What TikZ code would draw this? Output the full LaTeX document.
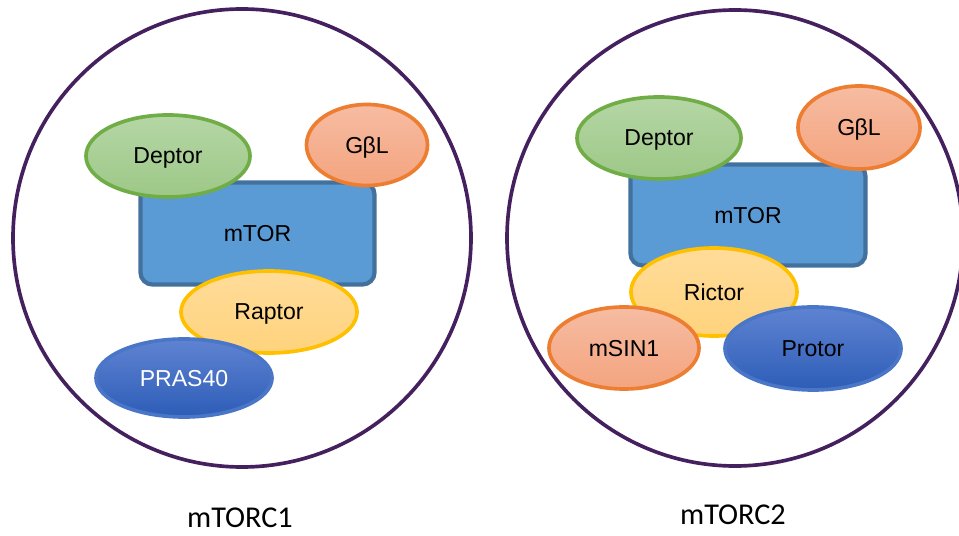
\documentclass[tikz,border=0pt]{standalone}
\usepackage{fontspec}
\setmainfont{Liberation Sans}
\newfontfamily\captionfont{Carlito}
\usetikzlibrary{shapes.geometric}
\definecolor{ringpurple}{HTML}{44205F}
\definecolor{torfill}{HTML}{5B9BD5}
\definecolor{torline}{HTML}{41719C}
\definecolor{grtop}{HTML}{B5D6A5}
\definecolor{grbot}{HTML}{9DC887}
\definecolor{grline}{HTML}{70AD47}
\definecolor{ortop}{HTML}{F6BCA2}
\definecolor{orbot}{HTML}{F4A47F}
\definecolor{orline}{HTML}{ED7D31}
\definecolor{yetop}{HTML}{FFDC99}
\definecolor{yebot}{HTML}{FFD37D}
\definecolor{yeline}{HTML}{FFC000}
\definecolor{bltop}{HTML}{5F83D2}
\definecolor{blbot}{HTML}{2D5DB7}
\definecolor{blline}{HTML}{4A76C8}
\begin{document}
\begin{tikzpicture}[x=0.025cm,y=-0.025cm,
	every node/.style={inner sep=0pt, text depth=0pt, font=\fontsize{16.4}{19}\selectfont},
	kinase/.style={draw=torline, fill=torfill, line width=3pt, rounded corners=0.3cm},
	prot/.style={ellipse, line width=2.6pt},
	deptor/.style={prot, draw=grline, top color=grtop, bottom color=grbot},
	gbl/.style={prot, draw=orline, top color=ortop, bottom color=orbot},
	partner/.style={prot, draw=yeline, top color=yetop, bottom color=yebot},
	extra/.style={prot, draw=blline, top color=bltop, bottom color=blbot},
	caption/.style={font=\captionfont\fontsize{21.5}{25}\selectfont}]
	\useasboundingbox (0,0) rectangle (959,536);
	\clip (0,0) rectangle (959,536);
	\draw [ringpurple, line width=2.6pt] (242,238) circle (229);
	\draw [ringpurple, line width=2.6pt] (735,238) circle (228);
	\node [kinase, minimum width=5.85cm, minimum height=2.55cm] (mtorA) at (257.5,233.5) {};
	\node at (mtorA) {mTOR};
	\node [deptor, minimum width=4.1cm, minimum height=2.05cm] (deptorA) at (168,156) {Deptor};
	\node [gbl, minimum width=3.025cm, minimum height=2.025cm] (gblA) at (367,145) {G\kern-0.5ptβL};
	\node [partner, minimum width=4.4cm, minimum height=2.05cm] (raptor) at (269,312) {Raptor};
	\node [extra, minimum width=4.4cm, minimum height=1.95cm, text=white] (pras) at (184,378) {PRAS40};
	\node [kinase, minimum width=5.875cm, minimum height=2.525cm] (mtorB) at (748,215) {};
	\node at (mtorB) {mTOR};
	\node [deptor, minimum width=4.1cm, minimum height=2.05cm] (deptorB) at (659,138) {Deptor};
	\node [gbl, minimum width=3.05cm, minimum height=2.075cm] (gblB) at (859,127.5) {G\kern-0.5ptβL};
	\node [partner, minimum width=4.15cm, minimum height=2.2cm] (rictor) at (714,292) {Rictor};
	\node [gbl, minimum width=3.75cm, minimum height=2.05cm] (msin) at (624,348) {mSIN1};
	\node [extra, minimum width=4.4cm, minimum height=2.075cm] (protor) at (813,348.5) {Protor};
	\node [caption] (torcA) at (240,518) {mTORC1};
	\node [caption] (torcB) at (733,515) {mTORC2};
\end{tikzpicture}
\end{document}
